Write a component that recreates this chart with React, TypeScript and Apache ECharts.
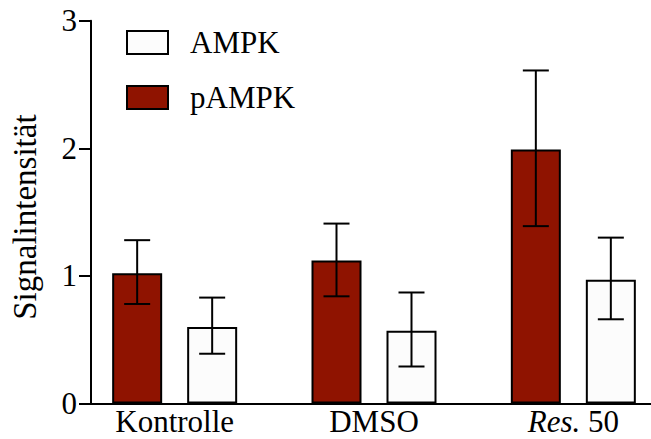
import React, { useEffect, useRef } from "react";
import * as echarts from "echarts";

const categories = ["Kontrolle", "DMSO", "Res. 50"];
const seriesNames = ["pAMPK", "AMPK"];
const pAMPK = [1.02, 1.12, 1.99];
const pAMPKLow = [0.78, 0.84, 1.39];
const pAMPKHigh = [1.28, 1.41, 2.61];
const AMPK = [0.6, 0.57, 0.97];
const AMPKLow = [0.39, 0.29, 0.66];
const AMPKHigh = [0.83, 0.87, 1.3];
const yTicks = [0, 1, 2, 3];

const FONT = "Liberation Serif";
const FS = 31;
const RED = "#8f1300";
const WHITE = "#fcfcfc";
const BAR_W = 50;
const BAR_GAP = 25;
const OFFSET = (BAR_W + BAR_GAP) / 2;

function errorSeries(name: string, low: number[], high: number[], dx: number) {
  return {
    type: "custom",
    name: name + "-err",
    xAxisIndex: 0,
    yAxisIndex: 0,
    z: 10,
    silent: true,
    data: categories.map((_, i) => [i, low[i], high[i]]),
    renderItem: (_params: any, api: any) => {
      const top = api.coord([api.value(0), api.value(2)]);
      const bot = api.coord([api.value(0), api.value(1)]);
      const x = top[0] + dx;
      const cap = 13;
      const style = { stroke: "#000", lineWidth: 2, fill: "none" };
      return {
        type: "group",
        children: [
          { type: "line", shape: { x1: x, y1: top[1], x2: x, y2: bot[1] }, style },
          { type: "line", shape: { x1: x - cap, y1: top[1], x2: x + cap, y2: top[1] }, style },
          { type: "line", shape: { x1: x - cap, y1: bot[1], x2: x + cap, y2: bot[1] }, style },
        ],
      };
    },
  };
}

export default function App() {
  const ref = useRef<HTMLDivElement>(null);

  useEffect(() => {
    if (!ref.current) return;
    document.body.style.overflow = "hidden";
    const chart = echarts.init(ref.current, undefined, { renderer: "svg" });
    const gridTop = 20.7;
    const gridHeight = 382.8;
    chart.setOption({
      animation: false,
      backgroundColor: "#fff",
      textStyle: { fontFamily: FONT, color: "#000" },
      grid: [
        { left: 75, top: gridTop, width: 598, height: gridHeight },
        { left: 88, top: gridTop, width: 563, height: gridHeight },
      ],
      legend: {
        orient: "vertical",
        left: 126,
        top: 27,
        padding: 0,
        itemWidth: 41,
        itemHeight: 23,
        itemGap: 24,
        icon: "rect",
        data: ["AMPK", "pAMPK"],
        textStyle: {
          fontFamily: FONT,
          fontSize: FS,
          color: "#000",
          padding: [0, 0, 0, 17],
        },
      },
      xAxis: [
        {
          type: "category",
          gridIndex: 0,
          data: categories,
          axisLine: { show: false },
          axisTick: { show: false },
          axisLabel: {
            interval: 0,
            hideOverlap: false,
            fontFamily: FONT,
            fontSize: FS,
            lineHeight: 27,
            color: "#000",
            margin: 4,
            formatter: (v: string) =>
              v.startsWith("Res.") ? "{i|Res.}{n|" + v.slice(4) + "}" : "{n|" + v + "}",
            rich: {
              i: { fontFamily: FONT, fontSize: FS, lineHeight: 27, fontStyle: "italic", color: "#000" },
              n: { fontFamily: FONT, fontSize: FS, lineHeight: 27, color: "#000" },
            },
          },
        },
        {
          type: "value",
          gridIndex: 1,
          min: 0,
          max: 1,
          axisLine: { show: true, onZero: false, lineStyle: { color: "#000", width: 2 } },
          axisTick: { show: false },
          axisLabel: { show: false },
          splitLine: { show: false },
        },
      ],
      yAxis: [
        {
          type: "value",
          gridIndex: 0,
          min: 0,
          max: 3,
          show: false,
        },
        {
          type: "value",
          gridIndex: 1,
          min: yTicks[0],
          max: yTicks[yTicks.length - 1],
          interval: 1,
          name: "Signalintensität",
          nameLocation: "middle",
          nameGap: 50,
          nameTextStyle: {
            fontFamily: FONT,
            fontSize: 33,
            color: "#000",
            padding: [0, 10, 0, 0],
          },
          axisLine: { show: true, lineStyle: { color: "#000", width: 2 } },
          axisTick: { show: true, length: 12, lineStyle: { color: "#000", width: 2 } },
          axisLabel: { fontFamily: FONT, fontSize: FS, color: "#000", margin: 14 },
          splitLine: { show: false },
        },
      ],
      series: [
        {
          type: "bar",
          name: seriesNames[0],
          xAxisIndex: 0,
          yAxisIndex: 0,
          data: pAMPK,
          barWidth: BAR_W,
          barGap: "50%",
          itemStyle: { color: RED, borderColor: "#000", borderWidth: 2 },
        },
        {
          type: "bar",
          name: seriesNames[1],
          xAxisIndex: 0,
          yAxisIndex: 0,
          data: AMPK,
          barWidth: BAR_W,
          barGap: "50%",
          itemStyle: { color: WHITE, borderColor: "#000", borderWidth: 2 },
        },
        errorSeries(seriesNames[0], pAMPKLow, pAMPKHigh, -OFFSET),
        errorSeries(seriesNames[1], AMPKLow, AMPKHigh, OFFSET),
      ],
    });
    return () => chart.dispose();
  }, []);

  return (
    <div
      ref={ref}
      style={{ position: "fixed", left: 0, top: 0, width: 700, height: 439 }}
    />
  );
}
